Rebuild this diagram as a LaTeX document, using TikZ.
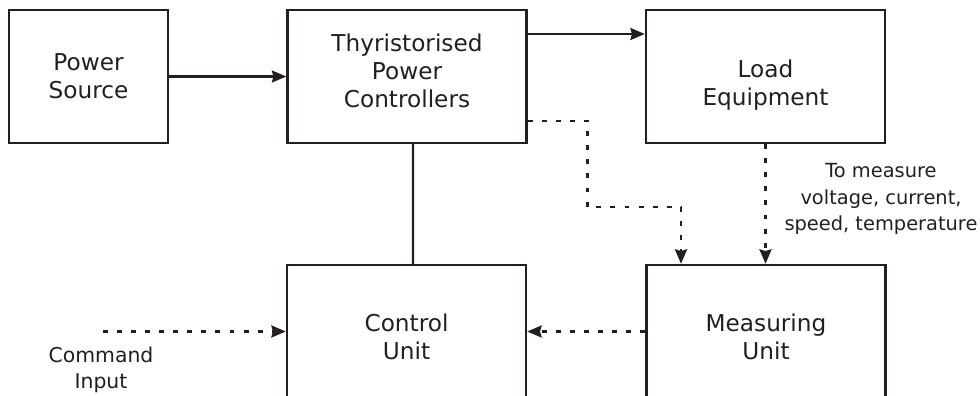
\documentclass[tikz,border=0pt]{standalone}
\usepackage{xcolor}
\usepackage{fontspec}
\setmainfont{DejaVu Sans}
\usepackage{tikz}
\usetikzlibrary{arrows.meta, positioning, calc}
\definecolor{ink}{RGB}{35,31,32}
\tikzstyle{arrow} = [ink, line width=1.5pt, -{Stealth[length=0.36cm, width=0.3cm, inset=0.04cm]}]
\tikzstyle{line} = [ink, line width=1.7pt, -]

\begin{document}
\begin{tikzpicture}[
    x=0.025cm, y=-0.025cm,
    block/.style={rectangle, draw=ink, line width=1.7pt, minimum width=5.975cm, minimum height=3.325cm},
    blocktext/.style={align=center, text=ink, font=\fontsize{16.5}{20}\selectfont},
    dotarrow/.style={arrow, line width=1.8pt, dash pattern=on 3.5pt off 6.5pt}
]
    \useasboundingbox (0,0) rectangle (980,395);
    \clip (0,0) rectangle (980,395);

    % Blocks
    \node[block, minimum width=3.975cm] (ps) at (88.5,76.5) {};
    \node[blocktext] (pstxt) at ($(ps)+(0,0)$) {Power\\Source};
    \node[block] (thyr) at (407,76.5) {};
    \node[blocktext] (thyrtxt) at ($(thyr)+(0,-6)$) {Thyristorised\\Power\\Controllers};
    \node[block] (load) at (765.5,76.5) {};
    \node[blocktext] (loadtxt) at ($(load)+(0,9)$) {Load\\Equipment};
    \node[block] (ctrl) at (406.5,331.5) {};
    \node[blocktext] (ctrltxt) at ($(ctrl)+(0,5)$) {Control\\Unit};
    \node[block] (meas) at (766,331.5) {};
    \node[blocktext] (meastxt) at ($(meas)+(0,5)$) {Measuring\\Unit};

    % Power path
    \draw[arrow] (ps) -- (thyr);
    \draw[arrow] ($(thyr.east)+(0,-42.5)$) coordinate (a1) -- (a1 -| load.west);
    \draw[line] ($(thyr.south)+(6,0)$) -- ($(ctrl.north)+(6.5,0)$);

    % Measurements
    \draw[dotarrow] ($(thyr.east)+(0,44.5)$) -| ($(thyr.east)+(60,130.5)$) -| ($(meas.north)+(-85,0)$);
    \draw[dotarrow] (load.south) -- (load.south |- meas.north);
    \draw[dotarrow] (meas) -- (ctrl);
    \node[text=ink, align=center, font=\fontsize{13.8}{18.8}\selectfont] (note) at (881,199)
        {To measure\\voltage, current,\\speed, temperature};

    % Command input
    \coordinate (cmd) at (103,331.5);
    \draw[dotarrow] (cmd) -- (ctrl.west);
    \node[text=ink, align=center, font=\fontsize{14.5}{19}\selectfont] (cmdtxt) at (101,370) {Command\\Input};
\end{tikzpicture}
\end{document}
